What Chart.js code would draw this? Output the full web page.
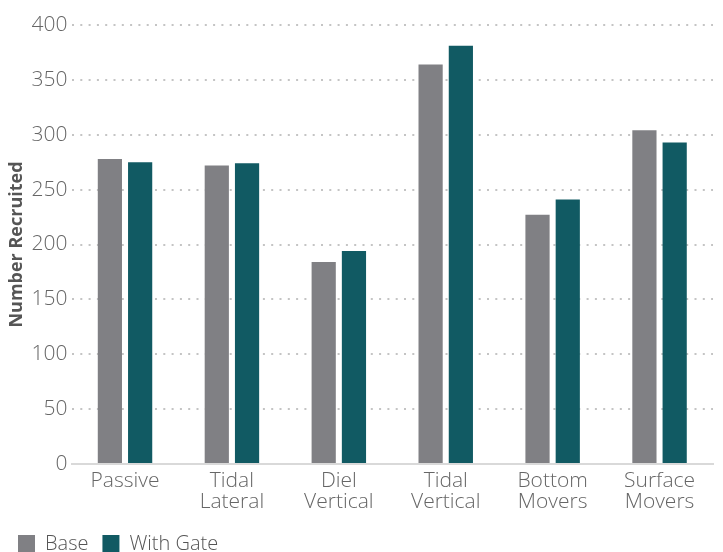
<!DOCTYPE html>
<html>
<head>
<meta charset="utf-8">
<script src="https://cdn.jsdelivr.net/npm/chart.js@4"></script>
<style>
  html, body { margin: 0; padding: 0; background: #fff; }
  #wrap { width: 723px; height: 552px; }
</style>
</head>
<body>
<div id="wrap"><canvas id="chart" width="723" height="552"></canvas></div>
<script>
const categories = [['Passive'], ['Tidal', 'Lateral'], ['Diel', 'Vertical'], ['Tidal', 'Vertical'], ['Bottom', 'Movers'], ['Surface', 'Movers']];
const baseValues = [278, 272, 184, 364, 227, 304];
const gateValues = [275, 274, 194, 381, 241, 293];
const yTicks = [0, 50, 100, 150, 200, 250, 300, 350, 400];

const fontFamily = "'Open Sans', 'Lato', sans-serif";

const ctx = document.getElementById('chart').getContext('2d');
new Chart(ctx, {
    type: 'bar',
    data: {
        labels: categories,
        datasets: [
            { label: 'Base', data: baseValues, backgroundColor: '#808084' },
            { label: 'With Gate', data: gateValues, backgroundColor: '#115a63' }
        ]
    },
    options: {
        responsive: false,
        animation: false,
        layout: { padding: { top: 25, right: 10, left: 4, bottom: -12 } },
        datasets: { bar: { categoryPercentage: 0.566, barPercentage: 0.8 } },
        plugins: {
            legend: {
                position: 'bottom',
                align: 'start',
                labels: {
                    boxWidth: 17,
                    boxHeight: 18,
                    padding: 14,
                    color: '#555',
                    font: { family: fontFamily, size: 20, weight: 300 }
                }
            },
            tooltip: { enabled: false }
        },
        scales: {
            x: {
                grid: { display: false, drawTicks: false },
                border: { display: true, color: '#d9d9d9', width: 2 },
                ticks: {
                    color: '#666',
                    padding: 7,
                    font: { family: fontFamily, size: 21, weight: 300, lineHeight: 1.0 }
                }
            },
            y: {
                min: 0,
                max: 400,
                afterBuildTicks: axis => { axis.ticks = yTicks.map(v => ({ value: v })); },
                grid: {
                    color: ctx => ctx.tick.value === 0 ? 'rgba(0,0,0,0)' : '#c4c4c4',
                    lineWidth: 2,
                    drawTicks: false
                },
                border: { display: false, dash: [2, 6.3] },
                ticks: {
                    color: '#666',
                    padding: 4,
                    font: { family: fontFamily, size: 21, weight: 300 }
                },
                title: {
                    display: true,
                    text: 'Number Recruited',
                    color: '#555',
                    padding: { top: 2, bottom: 0 },
                    font: { family: fontFamily, size: 18, weight: 'bold' }
                }
            }
        }
    }
});
</script>
</body>
</html>
